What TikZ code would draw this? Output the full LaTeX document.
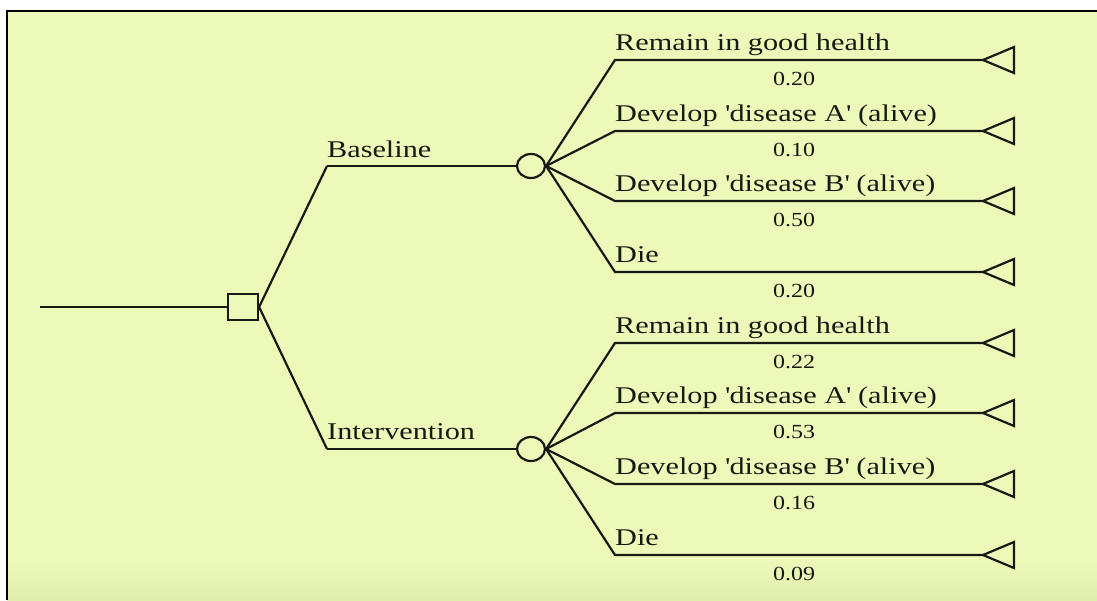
\documentclass[tikz,border=0pt]{standalone}
\usepackage{fontspec}
\setmainfont{Liberation Serif}
\newfontfamily\lblfont[FakeStretch=1.26]{Liberation Serif}
\newfontfamily\prbfont[FakeStretch=1.2]{Liberation Serif}
\usetikzlibrary{shapes.geometric}
\definecolor{bgc}{RGB}{237,249,185}
\definecolor{bgdark}{RGB}{226,238,172}
\definecolor{ink}{RGB}{25,25,20}
\tikzset{
  tree/.style={draw=ink, line width=2.2pt},
  lbl/.style={anchor=base west, inner sep=0pt, text=ink, font=\lblfont\fontsize{24}{24}\selectfont},
  prb/.style={anchor=center, inner sep=0pt, text=ink, font=\prbfont\fontsize{20}{20}\selectfont},
  decision/.style={tree, rectangle, minimum width=30pt, minimum height=26pt, inner sep=0pt},
  chance/.style={tree, ellipse, minimum width=28pt, minimum height=24pt, inner sep=0pt},
}
\begin{document}
\begin{tikzpicture}[x=1pt, y=-1pt]
\useasboundingbox (0,0) rectangle (1097,600);
\fill[white] (0,0) rectangle (1097,600);
\fill[bgc] (7,11) rectangle (1097,600);
\shade[top color=bgc, bottom color=bgdark] (7,560) rectangle (1097,600);
\draw[line width=2.5pt, black] (7,600) -- (7,11) -- (1097,11);

% root and decision
\coordinate (r0) at (40,307);
\node[decision] (d) at (243,307) {};
\draw[tree] (r0) -- (d.west);

% strategies
\coordinate (b1) at (327,166);
\coordinate (b2) at (327,449);
\node[chance] (c1) at (531,166) {};
\node[chance] (c2) at (531,449) {};
\draw[tree] (b1) -- (d.east) -- (b2);
\draw[tree] (b1) -- (c1.west);
\draw[tree] (b2) -- (c2.west);
\node[lbl] (lb1) at (327,157) {Baseline};
\node[lbl] (lb2) at (327,439) {Intervention};

% outcomes
\foreach \i/\y/\c/\txt/\p in {
  1/60/c1/Remain in good health/0.20,
  2/131/c1/Develop \textquotesingle disease A\textquotesingle\ (alive)/0.10,
  3/201/c1/Develop \textquotesingle disease B\textquotesingle\ (alive)/0.50,
  4/272/c1/Die/0.20,
  5/343/c2/Remain in good health/0.22,
  6/413/c2/Develop \textquotesingle disease A\textquotesingle\ (alive)/0.53,
  7/484/c2/Develop \textquotesingle disease B\textquotesingle\ (alive)/0.16,
  8/555/c2/Die/0.09}{
  \coordinate (o\i) at (615,\y);
  \coordinate (t\i) at (983,\y);
  \draw[tree] (\c.east) -- (o\i) -- (t\i);
  \draw[tree, line join=miter] (t\i) -- ++(31,-13) -- ++(0,26) -- cycle;
  \node[lbl] (ol\i) at (615,\y-10) {\txt};
  \node[prb] (op\i) at (794,\y+19) {\p};
}
\end{tikzpicture}
\end{document}
